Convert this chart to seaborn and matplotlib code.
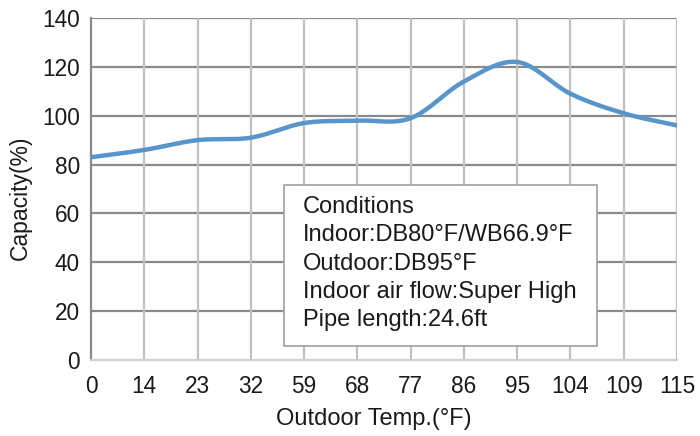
import matplotlib
matplotlib.use("Agg")
import matplotlib.pyplot as plt
import numpy as np
import pandas as pd
import seaborn as sns
from matplotlib.patches import Rectangle

OUTDOOR_TEMPS = ["0", "14", "23", "32", "59", "68", "77", "86", "95", "104", "109", "115"]
CAPACITY = [83, 86, 90, 91, 97, 98, 99, 114, 122, 109, 101, 96]
Y_TICKS = [0, 20, 40, 60, 80, 100, 120, 140]
CONDITIONS = [
    "Conditions",
    "Indoor:DB80°F/WB66.9°F",
    "Outdoor:DB95°F",
    "Indoor air flow:Super High",
    "Pipe length:24.6ft",
]

LINE_COLOR = "#5796cc"
HGRID = "#8a8a8a"
VGRID = "#c0c0c0"
TEXT = "#1a1a1a"

sns.set_theme(style="white")
plt.rcParams["font.family"] = ["Liberation Sans", "DejaVu Sans"]


def smooth_curve(y, steps=30):
    # Catmull-Rom spline through the points, like a spreadsheet "smoothed line"
    y = np.asarray(y, dtype=float)
    p = np.concatenate([[2 * y[0] - y[1]], y, [2 * y[-1] - y[-2]]])
    xs, ys = [], []
    for i in range(len(y) - 1):
        p0, p1, p2, p3 = p[i], p[i + 1], p[i + 2], p[i + 3]
        t = np.linspace(0, 1, steps, endpoint=(i == len(y) - 2))
        seg = 0.5 * ((2 * p1) + (-p0 + p2) * t
                     + (2 * p0 - 5 * p1 + 4 * p2 - p3) * t ** 2
                     + (-p0 + 3 * p1 - 3 * p2 + p3) * t ** 3)
        xs.extend(i + t)
        ys.extend(seg)
    return pd.DataFrame({"pos": xs, "capacity": ys})


fig = plt.figure(figsize=(7, 4.36), dpi=100)
ax = fig.add_axes([91 / 700, 76 / 436, 586 / 700, 342 / 436])

curve = smooth_curve(CAPACITY)
sns.lineplot(data=curve, x="pos", y="capacity", ax=ax, color=LINE_COLOR,
             linewidth=3.2, zorder=5, sort=False)

ax.set_xlim(0, len(OUTDOOR_TEMPS) - 1)
ax.set_ylim(0, 140)
ax.set_xticks(range(len(OUTDOOR_TEMPS)))
ax.set_xticklabels(OUTDOOR_TEMPS)
ax.set_yticks(Y_TICKS)

for yv in Y_TICKS[1:]:
    ax.axhline(yv, color=HGRID, linewidth=1.6, zorder=1)
for xv in range(1, len(OUTDOOR_TEMPS)):
    ax.axvline(xv, color=VGRID, linewidth=1.6, zorder=1)

for side in ["top", "right"]:
    ax.spines[side].set_visible(False)
ax.spines["left"].set_color(HGRID)
ax.spines["left"].set_linewidth(1.6)
ax.spines["bottom"].set_color("#cfcfcf")
ax.spines["bottom"].set_linewidth(1.6)

ax.tick_params(axis="both", length=0, labelsize=16.3, colors=TEXT)
ax.tick_params(axis="x", pad=11)
ax.tick_params(axis="y", pad=8)
ax.set_xlabel("Outdoor Temp.(°F)", fontsize=17, color=TEXT, labelpad=7)
ax.set_ylabel("Capacity(%)", fontsize=16.5, color=TEXT, labelpad=7)
ax.xaxis.label.set_x((374 - 91) / 586)
ax.yaxis.label.set_y((360 - 198) / 342)

# conditions box
box_x0, box_y0 = (284 - 91) / 586, (360 - 346) / 342
box_w, box_h = (597 - 284) / 586, (346 - 185) / 342
ax.add_patch(Rectangle((box_x0, box_y0), box_w, box_h, transform=ax.transAxes,
                       facecolor="white", edgecolor="#a0a0a0", linewidth=1.2,
                       zorder=3))
for i, line in enumerate(CONDITIONS):
    ypix = 207 + i * 28.3
    ax.text((303 - 91) / 586, (360 - ypix) / 342, line, transform=ax.transAxes,
            fontsize=17, color=TEXT, va="center", ha="left", zorder=4)

fig.savefig("out.png", dpi=100)
